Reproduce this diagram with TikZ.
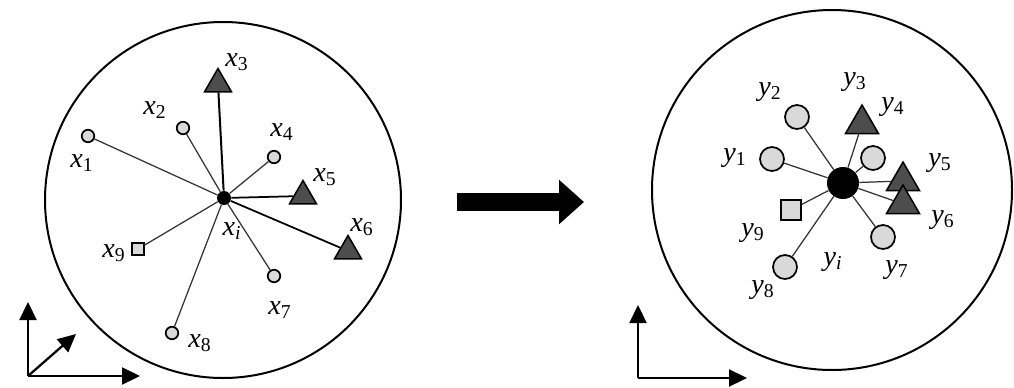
\documentclass[tikz,border=0pt]{standalone}
\usepackage{fontspec}
\setmainfont{Liberation Serif}
\usepackage{tikz}
\usetikzlibrary{arrows.meta, shapes.geometric}
\usepackage{xcolor}
\definecolor{mLight}{HTML}{D9D9D9}
\definecolor{mDark}{HTML}{4D4D4D}
\definecolor{mLine}{HTML}{333333}
\newcommand{\lbl}[2]{\textit{#1}\textsubscript{#2}}

\begin{document}
\begin{tikzpicture}[x=0.2mm, y=-0.2mm, >={Triangle[length=3.6mm, width=3.4mm]},
  lab/.style={font=\fontsize{16}{18}\selectfont, inner sep=0pt},
  pt/.style={circle, draw=black, line width=0.35mm, fill=mLight, inner sep=0pt, minimum size=2.5mm},
  bigpt/.style={pt, minimum size=4.8mm},
  tri/.style={regular polygon, regular polygon sides=3, draw=black, line width=0.3mm, fill=mDark, inner sep=0pt, minimum size=6.2mm},
  bigtri/.style={tri, minimum size=7.6mm},
  sq/.style={rectangle, draw=black, line width=0.3mm, fill=mLight, inner sep=0pt, minimum size=2.4mm},
  hub/.style={circle, fill=black, inner sep=0pt, minimum size=2.8mm},
  spoke/.style={mLine, line width=0.25mm}]
  \useasboundingbox (0,0) rectangle (1014,387);

  % left cluster
  \draw[line width=0.4mm] (223,200) circle (178);
  \node[hub] (xi) at (224,198) {};
  \node[pt]  (x1) at (88,136) {};
  \node[pt]  (x2) at (183,128) {};
  \node[tri] (x3) at (218,84) {};
  \node[pt]  (x4) at (274,157) {};
  \node[tri] (x5) at (303,196) {};
  \node[tri] (x6) at (348,251) {};
  \node[pt]  (x7) at (274,276) {};
  \node[pt]  (x8) at (172,333) {};
  \node[sq]  (x9) at (138,249) {};
  \foreach \n in {1,2,4,7,8,9}
    \draw[spoke] (xi) -- (x\n);
  \draw[line width=0.4mm] (xi) -- (x3);
  \draw[line width=0.35mm] (xi) -- (x5);
  \draw[line width=0.35mm] (xi) -- (x6);
  \node[lab] at (82,163) {\lbl{x}{1}};
  \node[lab] at (155,110) {\lbl{x}{2}};
  \node[lab] at (237,62) {\lbl{x}{3}};
  \node[lab] at (282,132) {\lbl{x}{4}};
  \node[lab] at (325,177) {\lbl{x}{5}};
  \node[lab] at (362,227) {\lbl{x}{6}};
  \node[lab] at (280,310) {\lbl{x}{7}};
  \node[lab] at (200,343) {\lbl{x}{8}};
  \node[lab] at (114,253) {\lbl{x}{9}};
  \node[lab] at (232,231) {\lbl{x}{\itshape i}};

  % left axes
  \coordinate (o1) at (28,376);
  \draw[line width=0.45mm, ->] (o1) -- (28,302);
  \draw[line width=0.45mm, ->] (o1) -- (140,376);
  \draw[line width=0.45mm, ->] (o1) -- (76,334);

  % mapping arrow
  \coordinate (a1) at (457,202);
  \coordinate (a2) at (584,202);
  \draw[line width=3.6mm, -{Triangle[length=5mm, width=8.6mm]}] (a1) -- (a2);

  % right cluster
  \draw[line width=0.4mm] (832,190) circle (180);
  \node[hub, minimum size=6.4mm] (yi) at (843,183) {};
  \node[bigpt]  (y1) at (772,159) {};
  \node[bigpt]  (y2) at (797,117) {};
  \node[bigtri] (y3) at (862,124) {};
  \node[bigpt]  (y4) at (873,158) {};
  \node[bigpt]  (y7) at (883,237) {};
  \node[bigpt]  (y8) at (785,267) {};
  \node[sq, minimum size=4mm] (y9) at (791,210) {};
  \foreach \n in {1,2,3,4,7,8,9}
    \draw[spoke] (yi) -- (y\n);
  \node[bigtri] (y5) at (903,181) {};
  \draw[spoke] (yi) -- (y5);
  \node[bigtri] (y6) at (903,204) {};
  \draw[spoke] (yi) -- (y6);
  \node[lab] at (735,158) {\lbl{y}{1}};
  \node[lab] at (770,92) {\lbl{y}{2}};
  \node[lab] at (855,82) {\lbl{y}{3}};
  \node[lab] at (893,107) {\lbl{y}{4}};
  \node[lab] at (940,163) {\lbl{y}{5}};
  \node[lab] at (943,220) {\lbl{y}{6}};
  \node[lab] at (897,270) {\lbl{y}{7}};
  \node[lab] at (763,290) {\lbl{y}{8}};
  \node[lab] at (753,233) {\lbl{y}{9}};
  \node[lab] at (833,262) {\lbl{y}{\itshape i}};

  % right axes
  \coordinate (o2) at (638,378);
  \draw[line width=0.45mm, ->] (o2) -- (638,305);
  \draw[line width=0.45mm, ->] (o2) -- (747,378);
\end{tikzpicture}
\end{document}
